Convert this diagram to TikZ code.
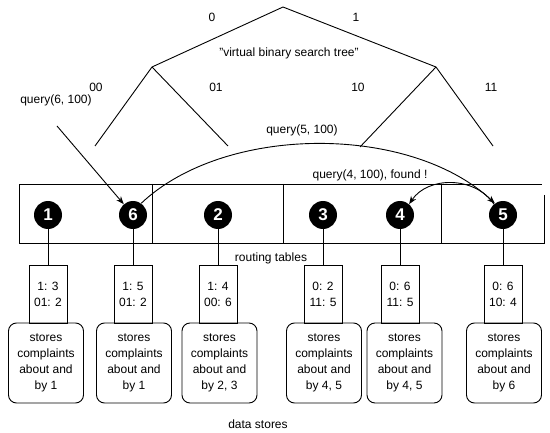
\documentclass[tikz,border=0pt]{standalone}
\usepackage{fontspec}
\setmainfont{Liberation Sans}
\usetikzlibrary{arrows.meta}
\tikzset{
  lbl/.style={font=\fontsize{12}{14}\selectfont, inner sep=0pt},
  peer/.style={circle, fill=black, minimum size=28pt, inner sep=0pt, text=white, font=\bfseries\fontsize{17}{17}\selectfont},
  rtable/.style={draw, line width=0.9pt, minimum width=38pt, minimum height=58pt, inner sep=0pt, align=center, font=\fontsize{12}{16}\selectfont},
  dstore/.style={draw, line width=0.9pt, rounded corners=8pt, minimum width=75pt, minimum height=80pt, inner sep=0pt, align=center, font=\fontsize{12}{16}\selectfont},
  ln/.style={line width=0.9pt},
  arr/.style={line width=0.9pt, -{Stealth[length=8pt,width=6pt]}}
}
\begin{document}
\begin{tikzpicture}[x=1pt,y=-1pt]
\useasboundingbox (0,0) rectangle (550,433);
% virtual tree
\coordinate (R) at (283,7);
\coordinate (L) at (152,67);
\coordinate (Rr) at (436,67);
\coordinate (LL) at (95,146);
\coordinate (LR) at (228,146);
\coordinate (RL) at (360,147);
\coordinate (RR) at (493,146);
\draw[ln] (LL) -- (L) -- (R) -- (Rr) -- (RR);
\draw[ln] (L) -- (LR);
\draw[ln] (Rr) -- (RL);
\node[lbl] (b0) at (212,17) {0};
\node[lbl] (b1) at (356,17) {1};
\node[lbl] (title) at (289,53) {"virtual binary search tree"};
\node[lbl] (b00) at (96,87) {00};
\node[lbl] (b01) at (216,87) {01};
\node[lbl] (b10) at (358,87) {10};
\node[lbl] (b11) at (491,87) {11};
% peer ring
\draw[ln] (19,243) -- (19,184) -- (542,184);
\draw[ln] (544,195) -- (544,243) -- (19,243);
\draw[ln] (152,184) -- (152,243);
\draw[ln] (283,184) -- (283,243);
\draw[ln] (441,184) -- (441,243);
\node[peer] (n1) at (48,215) {1};
\node[peer] (n6) at (133,215) {6};
\node[peer] (n2) at (218,215) {2};
\node[peer] (n3) at (323,215) {3};
\node[peer] (n4) at (400,215) {4};
\node[peer] (n5) at (503,215) {5};
% queries
\node[lbl] (q6) at (56,100) {query(6, 100)};
\coordinate (q6s) at (57,126);
\draw[arr] (q6s) -- (n6);
\node[lbl] (q5) at (302,130) {query(5, 100)};
\draw[arr] (n6.55) .. controls (225,124) and (410,124) .. (n5.125);
\node[lbl] (q4) at (370,175) {query(4, 100), found !};
\draw[arr] (n5.130) .. controls (475,176) and (428,176) .. (n4.50);
% routing tables
\node[rtable] (t1) at (48,294) {1: 3\\01: 2};
\node[rtable] (t6) at (133,294) {1: 5\\01: 2};
\node[rtable] (t2) at (218,294) {1: 4\\00: 6};
\node[rtable] (t3) at (323,294) {0: 2\\11: 5};
\node[rtable] (t4) at (400,294) {0: 6\\11: 5};
\node[rtable] (t5) at (503,294) {0: 6\\10: 4};
\foreach \p/\t in {n1/t1,n6/t6,n2/t2,n3/t3,n4/t4,n5/t5} \draw[ln] (\p) -- (\t);
\node[lbl] (rt) at (271,258) {routing tables};
% data stores
\node[dstore] (d1) at (46,363) {stores\\complaints\\about and\\by 1};
\node[dstore] (d6) at (134,363) {stores\\complaints\\about and\\by 1};
\node[dstore] (d2) at (219.5,363) {stores\\complaints\\about and\\by 2, 3};
\node[dstore] (d3) at (324,363) {stores\\complaints\\about and\\by 4, 5};
\node[dstore] (d4) at (404.5,363) {stores\\complaints\\about and\\by 4, 5};
\node[dstore] (d5) at (504,363) {stores\\complaints\\about and\\by 6};
\node[lbl] (ds) at (258,424) {data stores};
\end{tikzpicture}
\end{document}
